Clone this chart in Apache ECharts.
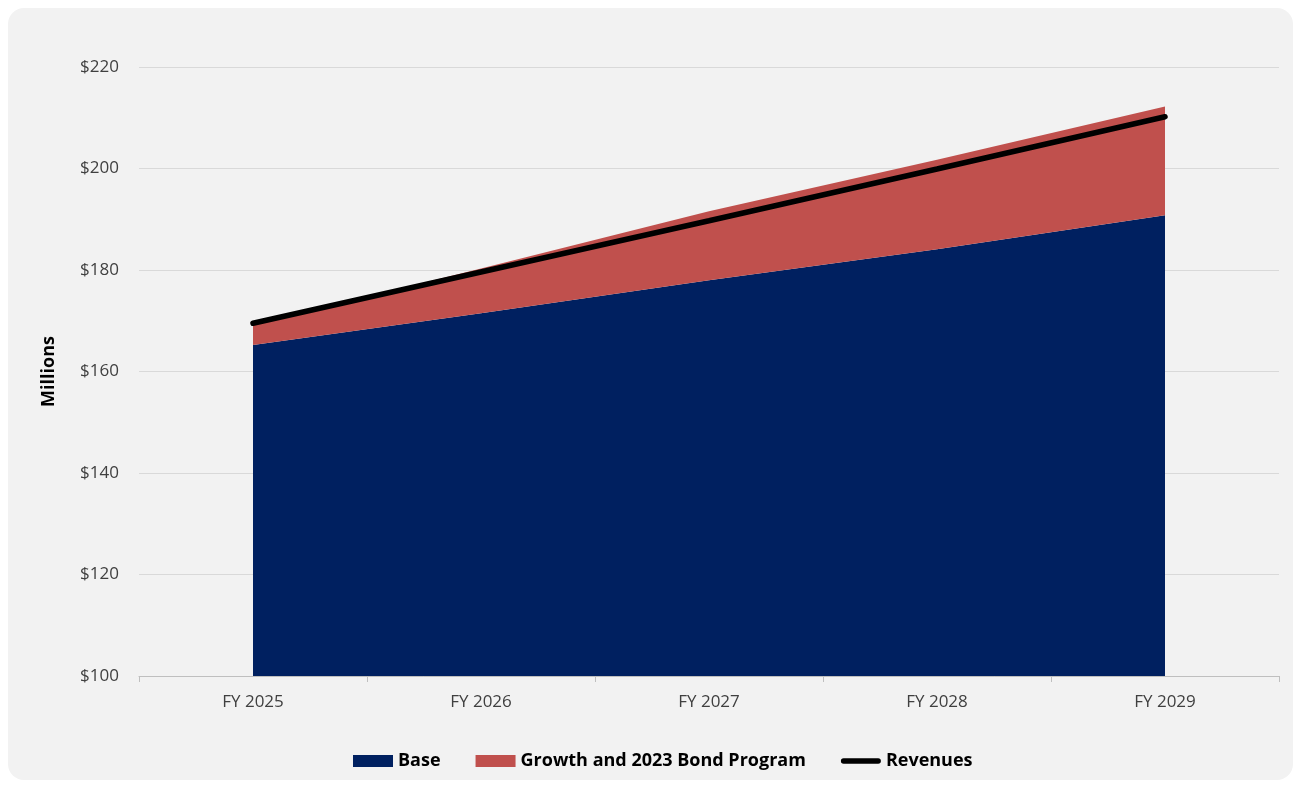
<!DOCTYPE html>
<html>
<head>
<meta charset="utf-8">
<script src="https://cdn.jsdelivr.net/npm/echarts@6/dist/echarts.min.js"></script>
<style>
  html, body { margin: 0; padding: 0; background: #ffffff; }
  #card {
    position: absolute; left: 8px; top: 8px; width: 1285px; height: 772px;
    background: #f2f2f2; border-radius: 16px;
  }
  #chart { position: absolute; left: 0; top: 0; width: 1301px; height: 788px; }
</style>
</head>
<body>
<div id="card"></div>
<div id="chart"></div>
<script>
// Fiscal years on the category axis
const years = ['FY 2025', 'FY 2026', 'FY 2027', 'FY 2028', 'FY 2029'];
// Stacked area components (millions)
const baseValues = [165.2, 171.5, 178.0, 184.1, 190.8];
const growthValues = [3.9, 8.8, 13.6, 17.6, 21.4];
// Projected revenues line (millions)
const revenueValues = [169.5, 179.6, 189.7, 199.9, 210.2];

const FONT = '"Open Sans", "Noto Sans", sans-serif';
// Thick rounded bar used as the legend marker of the revenue line
const LINE_ICON = 'path://M3,0 L41,0 A3,3 0 0 1 41,6 L3,6 A3,3 0 0 1 3,0 Z';

const chart = echarts.init(document.getElementById('chart'), null, { renderer: 'canvas' });
chart.setOption({
  backgroundColor: 'transparent',
  animation: false,
  grid: { left: 139, right: 22, top: 67, bottom: 112, containLabel: false },
  legend: {
    bottom: 13,
    left: 348,
    itemWidth: 40,
    itemHeight: 12,
    itemGap: 35,
    textStyle: { fontFamily: FONT, fontWeight: 'bold', fontSize: 18, color: '#000000', padding: [0, 0, 0, 0] },
    data: [
      { name: 'Base', icon: 'rect' },
      { name: 'Growth and 2023 Bond Program', icon: 'rect' },
      { name: 'Revenues', icon: LINE_ICON }
    ]
  },
  xAxis: {
    type: 'category',
    data: years,
    boundaryGap: true,
    axisLine: { lineStyle: { color: '#bfbfbf', width: 1 } },
    axisTick: { show: true, length: 6, lineStyle: { color: '#bfbfbf' } },
    axisLabel: { fontFamily: FONT, fontSize: 17, color: '#404040', margin: 18 }
  },
  yAxis: {
    type: 'value',
    min: 100,
    max: 220,
    interval: 20,
    name: 'Millions',
    nameLocation: 'middle',
    nameGap: 81,
    nameRotate: 90,
    nameTextStyle: { fontFamily: FONT, fontWeight: 'bold', fontSize: 18, color: '#000000' },
    axisLine: { show: false },
    axisTick: { show: false },
    splitLine: { lineStyle: { color: '#d9d9d9', width: 1 } },
    axisLabel: {
      fontFamily: FONT, fontSize: 17, color: '#404040', margin: 20,
      formatter: v => '$' + v
    }
  },
  series: [
    {
      name: 'Base',
      type: 'line',
      stack: 'rev',
      data: baseValues,
      symbol: 'none',
      lineStyle: { width: 0 },
      itemStyle: { color: '#002060' },
      areaStyle: { color: '#002060', opacity: 1 }
    },
    {
      name: 'Growth and 2023 Bond Program',
      type: 'line',
      stack: 'rev',
      data: growthValues,
      symbol: 'none',
      lineStyle: { width: 0 },
      itemStyle: { color: '#c0504d' },
      areaStyle: { color: '#c0504d', opacity: 1 }
    },
    {
      name: 'Revenues',
      type: 'line',
      data: revenueValues,
      symbol: 'none',
      itemStyle: { color: '#000000' },
      lineStyle: { color: '#000000', width: 5.5, cap: 'round' },
      z: 5
    }
  ]
});
</script>
</body>
</html>
